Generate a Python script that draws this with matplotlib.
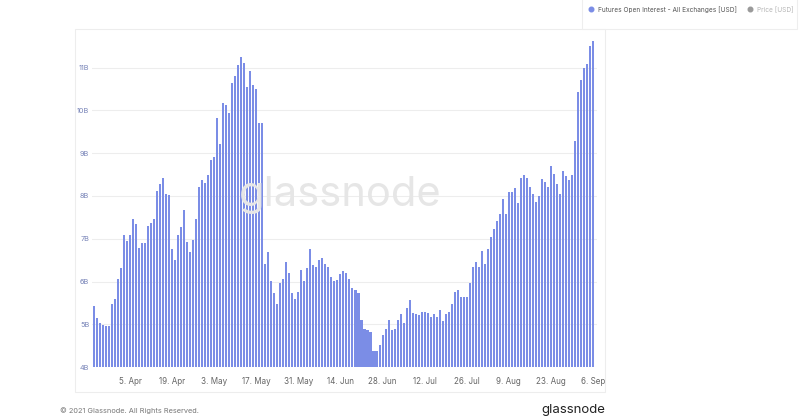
import matplotlib
matplotlib.use("Agg")
import matplotlib.pyplot as plt
import matplotlib.dates as mdates
from matplotlib.lines import Line2D
from matplotlib.patches import Rectangle
import numpy as np
import pandas as pd

plt.rcParams['font.family'] = ['Inter', 'DejaVu Sans']

# futures open interest, all exchanges, billions of USD (daily, 24 Mar - 6 Sep 2021)
oi_mar_may = [5.43, 5.14, 5.04, 4.98, 4.97, 4.96, 5.47, 5.59, 6.05, 6.31,
              7.08, 6.95, 7.08, 7.46, 7.34, 6.78, 6.91, 6.89, 7.30, 7.36,
              7.47, 8.12, 8.27, 8.43, 8.04, 8.03, 6.75, 6.50, 7.08, 7.28,
              7.68, 6.92, 6.69, 6.98, 7.46, 8.21, 8.37, 8.31, 8.49, 8.84,
              8.91]
oi_peak = [9.83, 9.21, 10.18, 10.12, 9.94, 10.63, 10.81, 11.06, 11.24, 11.11,
           10.55, 10.92, 10.59, 10.49, 9.71, 9.71]
oi_summer = [6.41, 6.69, 6.02, 5.74, 5.47, 5.96, 6.07, 6.45, 6.19, 5.72,
             5.59, 5.75, 6.28, 6.01, 6.32, 6.76, 6.38, 6.34, 6.50, 6.54,
             6.40, 6.34, 6.11, 6.02, 6.03, 6.17, 6.25, 6.19, 6.07, 5.85,
             5.81, 5.74, 5.11, 4.90, 4.86, 4.81, 4.38, 4.38, 4.51, 4.76,
             4.90, 5.11, 4.86, 4.90, 5.11, 5.23, 5.04, 5.39, 5.57, 5.27,
             5.25, 5.21, 5.29, 5.29, 5.27, 5.18, 5.25, 5.17, 5.33, 5.07,
             5.23, 5.29, 5.47]
oi_recovery = [5.76, 5.80, 5.63, 5.64, 5.63, 5.96, 6.33, 6.46, 6.34, 6.71,
               6.41, 6.77, 7.03, 7.22, 7.42, 7.57, 7.92, 7.57, 8.10, 8.10,
               8.18, 7.84, 8.43, 8.49, 8.43, 8.20, 8.04, 7.86, 8.00, 8.39,
               8.32, 8.21, 8.70, 8.51, 8.28, 8.04, 8.59, 8.47, 8.37, 8.49]
oi_sep = [9.28, 10.42, 10.72, 11.00, 11.08, 11.50, 11.62]

oi = np.array(oi_mar_may + oi_peak + oi_summer + oi_recovery + oi_sep)
dates = pd.date_range('2021-03-24', periods=len(oi), freq='D')

tick_dates = pd.date_range('2021-04-05', '2021-09-06', freq='14D')
y_ticks = [4, 5, 6, 7, 8, 9, 10, 11]

bar_color = '#7b8de6'

fig = plt.figure(figsize=(8, 4.19), dpi=100)
ax = fig.add_axes([0.115, 0.124, 0.631, 0.785])

ax.bar(dates, oi, width=0.68, color=bar_color, linewidth=0, zorder=2)

ax.set_ylim(4, 11.69)
ax.set_xlim(dates[0] - pd.Timedelta(hours=16), dates[-1] + pd.Timedelta(hours=31))
ax.set_yticks(y_ticks)
ax.set_yticklabels([f'{v}B' for v in y_ticks])
ax.set_xticks(tick_dates)
ax.xaxis.set_major_formatter(mdates.DateFormatter('%-d. %b'))

ax.grid(axis='y', color='#ededed', linewidth=0.8, zorder=0)
for s in ax.spines.values():
    s.set_visible(False)
ax.tick_params(axis='y', length=0, pad=2, labelsize=5.3, labelcolor='#7884b8')
ax.tick_params(axis='x', length=0, pad=7, labelsize=5.8, labelcolor='#666666')

# watermark
fig.text(0.425, 0.535, 'glassnode', fontsize=30, color='#e6e6e6',
         ha='center', va='center', zorder=0)

# container border and legend box
fig.add_artist(Rectangle((0.094, 0.064), 0.662, 0.867, transform=fig.transFigure,
                         fill=False, edgecolor='#ededed', linewidth=0.8))
fig.add_artist(Rectangle((0.728, 0.931), 0.268, 0.075, transform=fig.transFigure,
                         fill=False, edgecolor='#eeeeee', linewidth=0.8))

# legend
handles = [Line2D([], [], marker='o', linestyle='', color=bar_color, markersize=3.3),
           Line2D([], [], marker='o', linestyle='', color='#9a9a9a', markersize=3.3)]
leg = fig.legend(handles, ['Futures Open Interest - All Exchanges [USD]', 'Price [USD]'],
                 loc='upper right', bbox_to_anchor=(0.997, 0.995), ncol=2,
                 frameon=False, fontsize=4.7, handletextpad=0.1, columnspacing=1.0,
                 borderaxespad=0.2)
leg.get_texts()[0].set_color('#555555')
leg.get_texts()[1].set_color('#b5b5b5')

# footer
fig.text(0.075, 0.012, '\u00a9 2021 Glassnode. All Rights Reserved.', fontsize=5.3,
         color='#777777', ha='left', va='bottom')
fig.text(0.756, 0.006, 'glassnode', fontsize=9.5, color='#222222',
         ha='right', va='bottom')

fig.savefig('out.png', dpi=100, facecolor='white')
